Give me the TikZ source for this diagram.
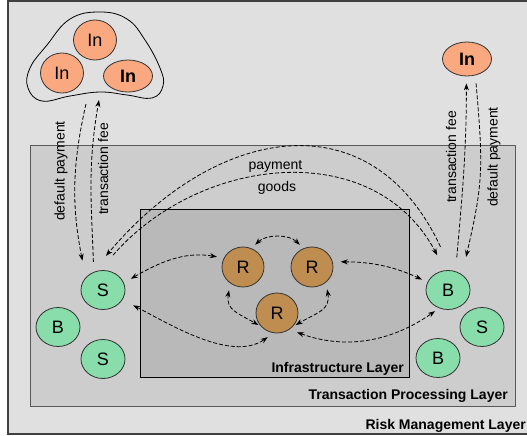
\documentclass[tikz,border=0pt]{standalone}
\usepackage{fontspec}
\setmainfont{Liberation Sans}
\usetikzlibrary{arrows.meta,shapes.geometric}

\definecolor{riskgray}{HTML}{E0E0E0}
\definecolor{procgray}{HTML}{CDCDCD}
\definecolor{infragray}{HTML}{B9B9B9}
\definecolor{agentgreen}{HTML}{88DDAA}
\definecolor{insurorange}{HTML}{F9A880}
\definecolor{relaybrown}{HTML}{BF8D4F}

\begin{document}
\begin{tikzpicture}[x=1pt,y=1pt,
  >={Stealth[length=7pt,width=5pt]},
  agent/.style={ellipse, draw=black!80, line width=0.8pt, fill=agentgreen,
    minimum width=44pt, minimum height=39pt, inner sep=0pt,
    font=\fontsize{18}{20}\selectfont},
  relay/.style={agent, fill=relaybrown, minimum width=42pt, minimum height=40pt},
  insurer/.style={agent, fill=insurorange, minimum width=43pt, minimum height=40pt},
  flow/.style={line width=0.8pt, dash pattern=on 4pt off 2pt, ->},
  layer/.style={font=\fontsize{14}{16}\selectfont\bfseries, anchor=base east, inner sep=0pt},
  tag/.style={font=\fontsize{14}{16}\selectfont, inner sep=0pt}]
  \useasboundingbox (0,0) rectangle (527,-436);
  % ---- Layers ----
  \draw[draw=black!75, line width=1.2pt, fill=riskgray] (8,-1) rectangle (540,-434);
  \draw[draw=black!65, line width=0.8pt, fill=procgray] (30,-145) rectangle (515,-406);
  \draw[draw=black, line width=0.8pt, fill=infragray] (140,-209) rectangle (409,-377);
  \node[layer] (infraLbl) at (404,-372) {Infrastructure Layer};
  \node[layer] (procLbl) at (508,-399) {Transaction Processing Layer};
  \node[layer] (riskLbl) at (526,-429) {Risk Management Layer};
  % ---- Insurers ----
  \draw[line width=0.8pt] plot[smooth cycle, tension=0.7] coordinates {(100,-12) (127,-19)
    (145,-40) (160,-68) (163,-86) (152,-98) (127,-95) (100,-92) (70,-96) (42,-101)
    (28,-88) (30,-68) (47,-45) (70,-19)};
  \node[insurer] (inTop) at (95,-40) {In};
  \node[insurer] (inLeft) at (62,-73) {In};
  \node[insurer, minimum width=49pt, minimum height=32pt, font=\fontsize{18}{20}\selectfont\bfseries] (inRight) at (128,-76) {In};
  \node[insurer, minimum width=49pt, minimum height=34pt, font=\fontsize{18}{20}\selectfont\bfseries] (inFar) at (467,-59) {In};
  \coordinate (blobL) at (86,-104);
  \coordinate (blobR) at (99,-100);
  % ---- Buyers and sellers ----
  \node[agent] (sL) at (103,-290) {S};
  \node[agent] (bL) at (58,-327) {B};
  \node[agent] (sL2) at (103,-359) {S};
  \node[agent] (bR) at (448,-290) {B};
  \node[agent] (sR) at (482,-327) {S};
  \node[agent] (bR2) at (438,-358) {B};
  % ---- Relays ----
  \node[relay] (rA) at (243,-267) {R};
  \node[relay] (rB) at (312,-267) {R};
  \node[relay] (rC) at (277,-313) {R};
  % ---- Fees and payments ----
  \draw[flow, shorten >=17pt] (blobL) to[out=-103, in=101] (sL.144);
  \draw[flow, shorten <=10pt] (sL.117) to[out=92, in=-100] (blobR);
  \draw[flow, shorten <=14pt, shorten >=7pt] (bR.68) to[out=85, in=-90] (inFar.-92);
  \draw[flow, shorten <=8pt, shorten >=18pt] (inFar.-63) to[out=-85, in=77, looseness=1.2] (bR.48);
  \draw[flow, shorten <=26pt, shorten >=22pt] (bR.80) to[out=115, in=50, looseness=1.36] (sL.123);
  \draw[flow, shorten <=20pt, shorten >=17pt] (sL.99) to[out=49, in=118, looseness=1.13] (bR.98);
  \node[tag, anchor=base] (payLbl) at (275.5,-169) {payment};
  \node[tag, anchor=base] (goodsLbl) at (277,-191) {goods};
  \node[tag, rotate=90] (dpLeft) at (61,-171) {default payment};
  \node[tag, rotate=90] (tfLeft) at (103,-169) {transaction fee};
  \node[tag, rotate=90] (tfRight) at (451,-157) {transaction fee};
  \node[tag, rotate=90] (dpRight) at (494,-157) {default payment};
  % ---- Relay links ----
  \draw[flow, <->, shorten <=8pt, shorten >=7pt] (sL.19) to[out=30, in=170] (rA.155);
  \draw[flow, <->, shorten <=12pt, shorten >=7pt] (sL.-27) to[out=-27, in=-145, looseness=0.85] (rC.-100);
  \draw[flow, <->, shorten <=5pt, shorten >=5pt] (rA.65) to[out=45, in=135] (rB.115);
  \draw[flow, <->, shorten <=7pt, shorten >=3pt] (rA.-128) to[out=-100, in=150, looseness=1.3] (rC.-140);
  \draw[flow, <->, shorten <=7pt, shorten >=3pt] (rB.-48) to[out=-80, in=30, looseness=1.3] (rC.-40);
  \draw[flow, <->, shorten <=8pt, shorten >=6pt] (rB.14) to[out=0, in=155] (bR.159);
  \draw[flow, <->, shorten <=8pt, shorten >=5pt] (rC.-53) to[out=-20, in=-145] (bR.-116);
\end{tikzpicture}
\end{document}
